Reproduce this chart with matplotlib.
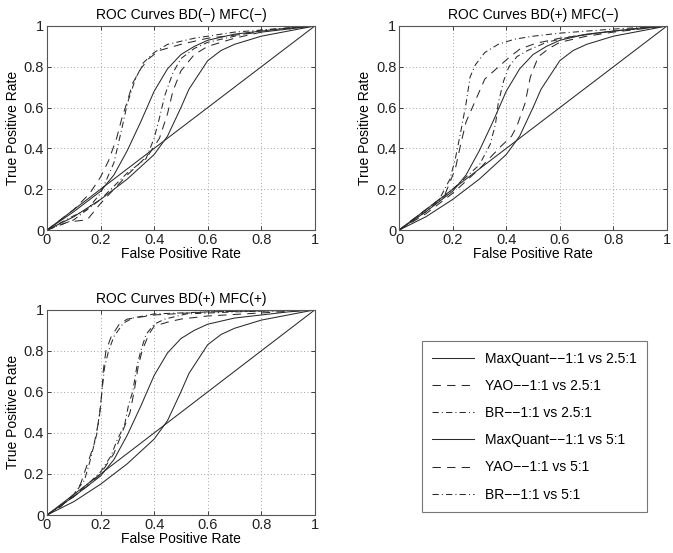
import numpy as np
import matplotlib
matplotlib.use("Agg")
import matplotlib.pyplot as plt
from matplotlib.ticker import FormatStrFormatter

plt.rcParams['font.family'] = ['Liberation Sans', 'DejaVu Sans']
plt.rcParams['font.size'] = 10

# MaxQuant curves (same in all three panels)
fpr_mq_25 = [0, 0.1, 0.2, 0.3, 0.4, 0.45, 0.5, 0.53, 0.57, 0.6, 0.65, 0.7, 0.8, 0.9, 1]
tpr_mq_25 = [0, 0.065, 0.15, 0.25, 0.37, 0.46, 0.6, 0.69, 0.77, 0.83, 0.88, 0.91, 0.95, 0.975, 1]
fpr_mq_5 = [0, 0.1, 0.2, 0.25, 0.3, 0.35, 0.4, 0.45, 0.5, 0.55, 0.6, 0.7, 0.8, 0.9, 1]
tpr_mq_5 = [0, 0.09, 0.19, 0.27, 0.39, 0.53, 0.68, 0.79, 0.86, 0.9, 0.93, 0.96, 0.975, 0.99, 1]

# panel 1: BD(-) MFC(-)
p1_fpr_yao_25 = [0, 0.08, 0.15, 0.2, 0.3, 0.38, 0.42, 0.45, 0.47, 0.5, 0.55, 0.6, 0.7, 0.8, 1]
p1_tpr_yao_25 = [0, 0.04, 0.05, 0.13, 0.27, 0.37, 0.45, 0.57, 0.68, 0.78, 0.86, 0.9, 0.94, 0.97, 1]
p1_fpr_br_25 = [0, 0.1, 0.2, 0.3, 0.37, 0.4, 0.42, 0.44, 0.47, 0.5, 0.55, 0.6, 0.7, 0.8, 1]
p1_tpr_br_25 = [0, 0.05, 0.15, 0.28, 0.35, 0.45, 0.55, 0.66, 0.77, 0.84, 0.89, 0.92, 0.95, 0.98, 1]
p1_fpr_yao_5 = [0, 0.1, 0.16, 0.2, 0.23, 0.26, 0.28, 0.3, 0.32, 0.35, 0.38, 0.42, 0.5, 0.6, 0.8, 1]
p1_tpr_yao_5 = [0, 0.1, 0.18, 0.26, 0.34, 0.45, 0.55, 0.63, 0.72, 0.79, 0.84, 0.88, 0.91, 0.94, 0.97, 1]
p1_fpr_br_5 = [0, 0.1, 0.15, 0.2, 0.25, 0.28, 0.3, 0.33, 0.36, 0.4, 0.45, 0.55, 0.7, 1]
p1_tpr_br_5 = [0, 0.07, 0.1, 0.18, 0.33, 0.5, 0.62, 0.74, 0.82, 0.87, 0.91, 0.94, 0.97, 1]

# panel 2: BD(+) MFC(-)
p2_fpr_yao_25 = [0, 0.1, 0.2, 0.3, 0.38, 0.42, 0.44, 0.47, 0.49, 0.52, 0.56, 0.6, 0.7, 0.8, 1]
p2_tpr_yao_25 = [0, 0.08, 0.18, 0.3, 0.41, 0.46, 0.51, 0.62, 0.75, 0.85, 0.89, 0.92, 0.95, 0.97, 1]
p2_fpr_br_25 = [0, 0.1, 0.2, 0.3, 0.34, 0.36, 0.37, 0.39, 0.41, 0.44, 0.48, 0.55, 0.65, 0.8, 1]
p2_tpr_br_25 = [0, 0.09, 0.2, 0.32, 0.42, 0.52, 0.62, 0.73, 0.8, 0.85, 0.88, 0.92, 0.95, 0.975, 1]
p2_fpr_yao_5 = [0, 0.1, 0.17, 0.21, 0.23, 0.25, 0.28, 0.32, 0.38, 0.41, 0.45, 0.51, 0.6, 0.8, 1]
p2_tpr_yao_5 = [0, 0.1, 0.17, 0.3, 0.42, 0.53, 0.62, 0.74, 0.81, 0.845, 0.886, 0.915, 0.94, 0.975, 1]
p2_fpr_br_5 = [0, 0.1, 0.15, 0.19, 0.21, 0.23, 0.25, 0.265, 0.285, 0.32, 0.37, 0.43, 0.5, 0.6, 0.8, 1]
p2_tpr_br_5 = [0, 0.1, 0.15, 0.25, 0.35, 0.48, 0.62, 0.75, 0.81, 0.87, 0.91, 0.935, 0.95, 0.965, 0.985, 1]

# panel 3: BD(+) MFC(+)
p3_fpr_yao_25 = [0, 0.1, 0.16, 0.2, 0.25, 0.28, 0.31, 0.325, 0.34, 0.355, 0.38, 0.4, 0.45, 0.5, 0.6, 0.8, 1]
p3_tpr_yao_25 = [0, 0.09, 0.15, 0.2, 0.3, 0.4, 0.5, 0.6, 0.72, 0.8, 0.88, 0.92, 0.94, 0.955, 0.97, 0.985, 1]
p3_fpr_br_25 = [0, 0.1, 0.16, 0.2, 0.24, 0.26, 0.29, 0.305, 0.32, 0.335, 0.35, 0.37, 0.4, 0.44, 0.52, 0.7, 1]
p3_tpr_br_25 = [0, 0.09, 0.16, 0.21, 0.29, 0.36, 0.44, 0.54, 0.6, 0.72, 0.8, 0.88, 0.93, 0.955, 0.98, 0.99, 1]
p3_fpr_yao_5 = [0, 0.05, 0.1, 0.125, 0.15, 0.175, 0.195, 0.205, 0.21, 0.22, 0.24, 0.27, 0.3, 0.4, 0.6, 1]
p3_tpr_yao_5 = [0, 0.04, 0.1, 0.15, 0.245, 0.34, 0.47, 0.6, 0.7, 0.8, 0.87, 0.93, 0.955, 0.975, 0.99, 1]
p3_fpr_br_5 = [0, 0.05, 0.1, 0.14, 0.16, 0.185, 0.2, 0.205, 0.215, 0.23, 0.25, 0.285, 0.32, 0.4, 0.6, 1]
p3_tpr_br_5 = [0, 0.04, 0.1, 0.17, 0.26, 0.39, 0.53, 0.6, 0.72, 0.8, 0.87, 0.935, 0.96, 0.98, 0.99, 1]

titles = ["ROC Curves BD(\u2212) MFC(\u2212)", "ROC Curves BD(+) MFC(\u2212)", "ROC Curves BD(+) MFC(+)"]
labels = ["MaxQuant\u2212\u22121:1 vs 2.5:1", "YAO\u2212\u22121:1 vs 2.5:1", "BR\u2212\u22121:1 vs 2.5:1",
          "MaxQuant\u2212\u22121:1 vs 5:1", "YAO\u2212\u22121:1 vs 5:1", "BR\u2212\u22121:1 vs 5:1"]

panels = [
    [(p1_fpr_yao_25, p1_tpr_yao_25), (p1_fpr_br_25, p1_tpr_br_25), (p1_fpr_yao_5, p1_tpr_yao_5), (p1_fpr_br_5, p1_tpr_br_5)],
    [(p2_fpr_yao_25, p2_tpr_yao_25), (p2_fpr_br_25, p2_tpr_br_25), (p2_fpr_yao_5, p2_tpr_yao_5), (p2_fpr_br_5, p2_tpr_br_5)],
    [(p3_fpr_yao_25, p3_tpr_yao_25), (p3_fpr_br_25, p3_tpr_br_25), (p3_fpr_yao_5, p3_tpr_yao_5), (p3_fpr_br_5, p3_tpr_br_5)],
]

LC = '#2a2a2a'
LW = 0.75
SOLID = '-'
DASH = (0, (8, 6))
DASHDOT = (0, (6, 3, 1, 3))

fig = plt.figure(figsize=(6.73, 5.53), dpi=100)
rects = [[0.0698, 0.584, 0.398, 0.369], [0.593, 0.584, 0.398, 0.369], [0.0698, 0.0687, 0.398, 0.371]]

handles = None
for k in range(3):
    ax = fig.add_axes(rects[k])
    yao25, br25, yao5, br5 = panels[k]
    h1, = ax.plot(fpr_mq_25, tpr_mq_25, color=LC, lw=LW, ls=SOLID)
    h2, = ax.plot(yao25[0], yao25[1], color=LC, lw=LW, ls=DASH)
    h3, = ax.plot(br25[0], br25[1], color=LC, lw=LW, ls=DASHDOT)
    h4, = ax.plot(fpr_mq_5, tpr_mq_5, color=LC, lw=LW, ls=SOLID)
    h5, = ax.plot(yao5[0], yao5[1], color=LC, lw=LW, ls=DASH)
    h6, = ax.plot(br5[0], br5[1], color=LC, lw=LW, ls=DASHDOT)
    ax.plot([0, 1], [0, 1], color=LC, lw=LW)
    if handles is None:
        handles = [h1, h2, h3, h4, h5, h6]
    ax.set_xlim(0, 1)
    ax.set_ylim(0, 1)
    ax.set_xticks(np.arange(0, 1.01, 0.2))
    ax.set_yticks(np.arange(0, 1.01, 0.2))
    ax.xaxis.set_major_formatter(FormatStrFormatter('%g'))
    ax.yaxis.set_major_formatter(FormatStrFormatter('%g'))
    ax.grid(True, ls=(0, (1, 3)), color='#888888', lw=0.6)
    ax.tick_params(direction='in', length=3, width=0.6, top=True, right=True, labelsize=10.5, pad=2, colors='#222222')
    for s in ax.spines.values():
        s.set_color('#555555')
        s.set_linewidth(0.8)
    ax.set_title(titles[k], fontsize=10, pad=5)
    ax.set_xlabel("False Positive Rate", fontsize=10, labelpad=0)
    ax.set_ylabel("True Positive Rate", fontsize=10, labelpad=3)

leg = fig.legend(handles, labels, loc='upper left', bbox_to_anchor=(0.627, 0.383),
                 fontsize=10, frameon=True, fancybox=False, edgecolor='#555555',
                 handlelength=3.0, handletextpad=0.8, labelspacing=0.95, borderpad=0.75,
                 borderaxespad=0)
leg.get_frame().set_linewidth(0.8)

fig.savefig("out.png", dpi=100)
